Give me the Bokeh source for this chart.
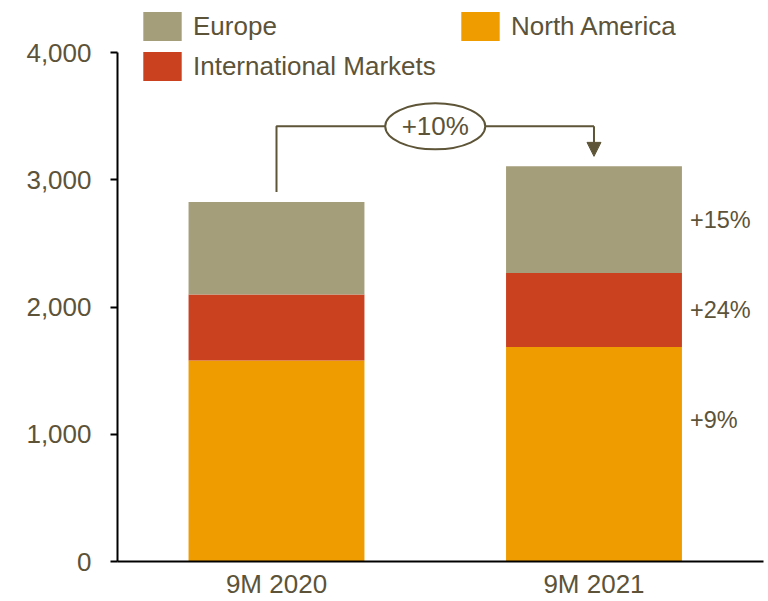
from bokeh.plotting import figure
from bokeh.models import (ColumnDataSource, Legend, LegendItem, FixedTicker,
                          NumeralTickFormatter, Arrow, NormalHead, Range1d)
from bokeh.embed import file_html
from bokeh.resources import INLINE
from bokeh.core.properties import value

# ---------------- data ----------------
periods = ["9M 2020", "9M 2021"]
north_america = [1580, 1686]
international = [518, 581]
europe = [727, 839]
growth_labels = ["+9%", "+24%", "+15%"]   # North America, International, Europe
total_growth = "+10%"
y_ticks = [0, 1000, 2000, 3000, 4000]

# ---------------- style ----------------
C_NA = "#EF9C00"
C_INTL = "#C9411F"
C_EU = "#A59E7A"
TEXT = "#5C5339"
LINE = "#5E5538"
FONT = "Liberation Sans"

xs = list(range(len(periods)))
source = ColumnDataSource(dict(x=xs, na=north_america, intl=international, eu=europe))

p = figure(width=768, height=601, output_backend="svg", toolbar_location=None,
           x_range=Range1d(-0.5008, 1.5339), y_range=Range1d(0, 4409),
           min_border_left=117, min_border_right=5, min_border_top=0,
           min_border_bottom=37)
p.outline_line_color = None
p.xgrid.visible = False
p.ygrid.visible = False
p.background_fill_color = "white"

BAR_W = 0.554
rs = p.vbar_stack(["na", "intl", "eu"], x="x", width=BAR_W, color=[C_NA, C_INTL, C_EU],
                  line_color=None, source=source)
r_na, r_intl, r_eu = rs

# ---------------- axes ----------------
ya = p.yaxis[0]
ya.ticker = FixedTicker(ticks=y_ticks)
ya.formatter = NumeralTickFormatter(format="0,0")
ya.bounds = (y_ticks[0], y_ticks[-1])
ya.axis_line_color = "black"
ya.axis_line_width = 2
ya.major_tick_line_color = "black"
ya.major_tick_line_width = 2
ya.major_tick_out = 7
ya.major_tick_in = 0
ya.minor_tick_line_color = None
ya.major_label_text_font = FONT
ya.major_label_text_font_size = "26px"
ya.major_label_text_color = TEXT
ya.major_label_standoff = 19

xa = p.xaxis[0]
xa.ticker = FixedTicker(ticks=xs)
xa.major_label_overrides = {i: s for i, s in zip(xs, periods)}
xa.axis_line_color = "black"
xa.axis_line_width = 2
xa.major_tick_line_color = None
xa.major_tick_out = 0
xa.major_tick_in = 0
xa.minor_tick_line_color = None
xa.major_label_text_font = FONT
xa.major_label_text_font_size = "26px"
xa.major_label_text_color = TEXT
xa.major_label_standoff = 7

# ---------------- bracket annotation ----------------
totals = [a + b + c for a, b, c in zip(north_america, international, europe)]
GAP = 78
BRACKET_Y = 3420
p.line(x=[xs[0], xs[0], xs[1], xs[1]],
       y=[totals[0] + GAP, BRACKET_Y, BRACKET_Y, BRACKET_Y],
       line_color=LINE, line_width=2)
p.add_layout(Arrow(end=NormalHead(size=14, fill_color=LINE, line_color=LINE),
                   x_start=xs[1], y_start=BRACKET_Y, x_end=xs[1], y_end=totals[1] + GAP,
                   line_color=LINE, line_width=2))
mid = (xs[0] + xs[1]) / 2
p.ellipse(x=[mid], y=[BRACKET_Y], width=100, height=46,
          width_units="screen", height_units="screen",
          fill_color="white", line_color=LINE, line_width=2)
p.text(x=[mid], y=[BRACKET_Y], text=[total_growth], text_align="center",
       text_baseline="middle", text_font=value(FONT), text_font_size="26px",
       text_color=TEXT)

# ---------------- growth labels on the right of bar 2 ----------------
i = 1
label_y = [north_america[i] * 0.66,
           north_america[i] + international[i] / 2,
           north_america[i] + international[i] + europe[i] / 2]
p.text(x=[xs[i] + BAR_W / 2] * 3, y=label_y, text=growth_labels, x_offset=8,
       text_align="left", text_baseline="middle", text_font=value(FONT),
       text_font_size="23.5px", text_color=TEXT)

# ---------------- legends ----------------
def make_legend(items, loc):
    lg = Legend(items=items, location=loc, orientation="vertical",
                glyph_width=48, glyph_height=36, label_standoff=7, spacing=4,
                padding=0, margin=0, border_line_color=None,
                background_fill_alpha=0, label_text_font=FONT,
                label_text_font_size="26px", label_text_color=TEXT,
                label_height=36)
    return lg

p.add_layout(make_legend([LegendItem(label="Europe", renderers=[r_eu]),
                          LegendItem(label="International Markets", renderers=[r_intl])],
                         (21, 477)))
p.add_layout(make_legend([LegendItem(label="North America", renderers=[r_na])],
                         (339, 517)))

open("out.html", "w").write(file_html(p, INLINE))
